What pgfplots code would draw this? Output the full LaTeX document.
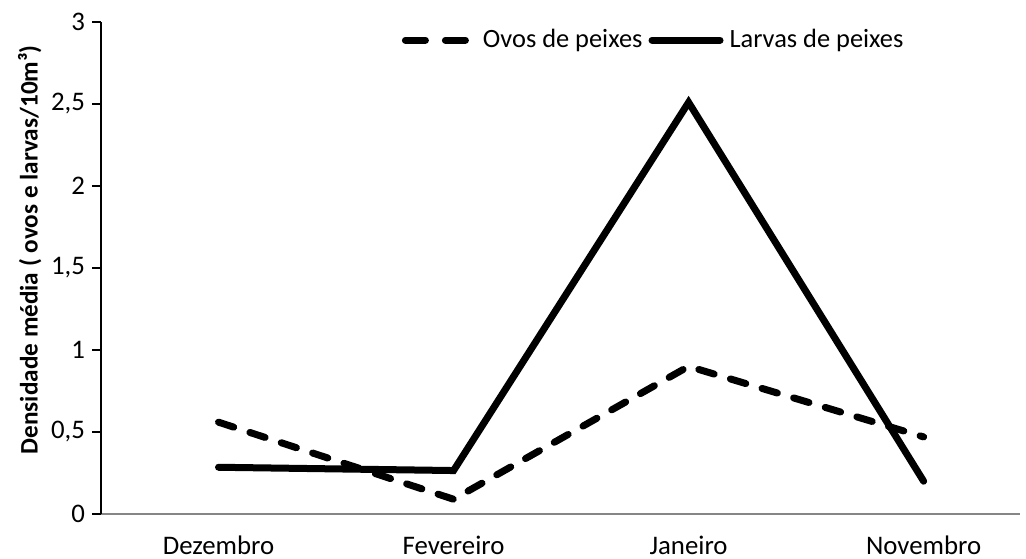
\documentclass[border=0pt]{standalone}
\usepackage{pgfplots}
\pgfplotsset{compat=1.18}
\usepackage{fontspec}
\setmainfont{Carlito}
\definecolor{axgray}{HTML}{868686}
\begin{document}
\begin{tikzpicture}
\path[use as bounding box] (0,0) rectangle (513pt,279pt);
\begin{axis}[
  at={(50.5pt,22pt)}, anchor=south west,
  scale only axis,
  width=459.5pt, height=246pt,
  xmin=-0.5, xmax=3.41,
  ymin=0, ymax=3,
  axis lines=left,
  axis line style={-, line width=0.8pt},
  x axis line style={axgray, line width=1.2pt},
  xtick={0,1,2,3},
  xticklabels={Dezembro,Fevereiro,Janeiro,Novembro},
  major x tick style={draw=none},
  extra x ticks={-0.5,0.5,1.5,2.5},
  extra x tick labels={},
  extra x tick style={tick style={black, line width=0.8pt}, major tick length=5pt, tick align=outside},
  xticklabel style={anchor=base, inner sep=0pt, yshift=-15.5pt},
  ytick={0,0.5,1,1.5,2,2.5,3},
  yticklabels={0,{0,5},1,{1,5},2,{2,5},3},
  y tick style={black, line width=0.8pt},
  tick align=outside,
  major tick length=4.5pt,
  ticklabel style={font=\fontsize{13.4pt}{15pt}\selectfont},
  ylabel={\textbf{Densidade média ( ovos e larvas/10m³)}},
  ylabel style={font=\fontsize{12.6pt}{15pt}\selectfont, at={(ticklabel cs:0.537)}, yshift=-2pt},
  legend columns=2,
  legend style={at={(axis description cs:0.327,0.963)}, anchor=west, draw=none, fill=none,
    font=\fontsize{13.2pt}{15pt}\selectfont, column sep=1pt, inner sep=0pt},
  legend image code/.code={\draw[#1] (0pt,0pt) -- (34pt,0pt);},
  clip=false,
]
\addlegendimage{black, line width=3.5pt, line cap=round, dash pattern=on 10pt off 10pt}
\addlegendentry{Ovos de peixes}
\addlegendimage{black, line width=3.5pt, line cap=round}
\addlegendentry{Larvas de peixes}
\addplot[black, line width=3.5pt, line cap=round, dash pattern=on 8pt off 8.5pt, forget plot] coordinates {
  (0,0.56) (1,0.09) (2,0.90) (3,0.47)
};
\addplot[black, line width=3.5pt, line cap=round, line join=miter, forget plot] coordinates {
  (0,0.285) (1,0.265) (2,2.51) (3,0.20)
};
\end{axis}
\end{tikzpicture}
\end{document}
